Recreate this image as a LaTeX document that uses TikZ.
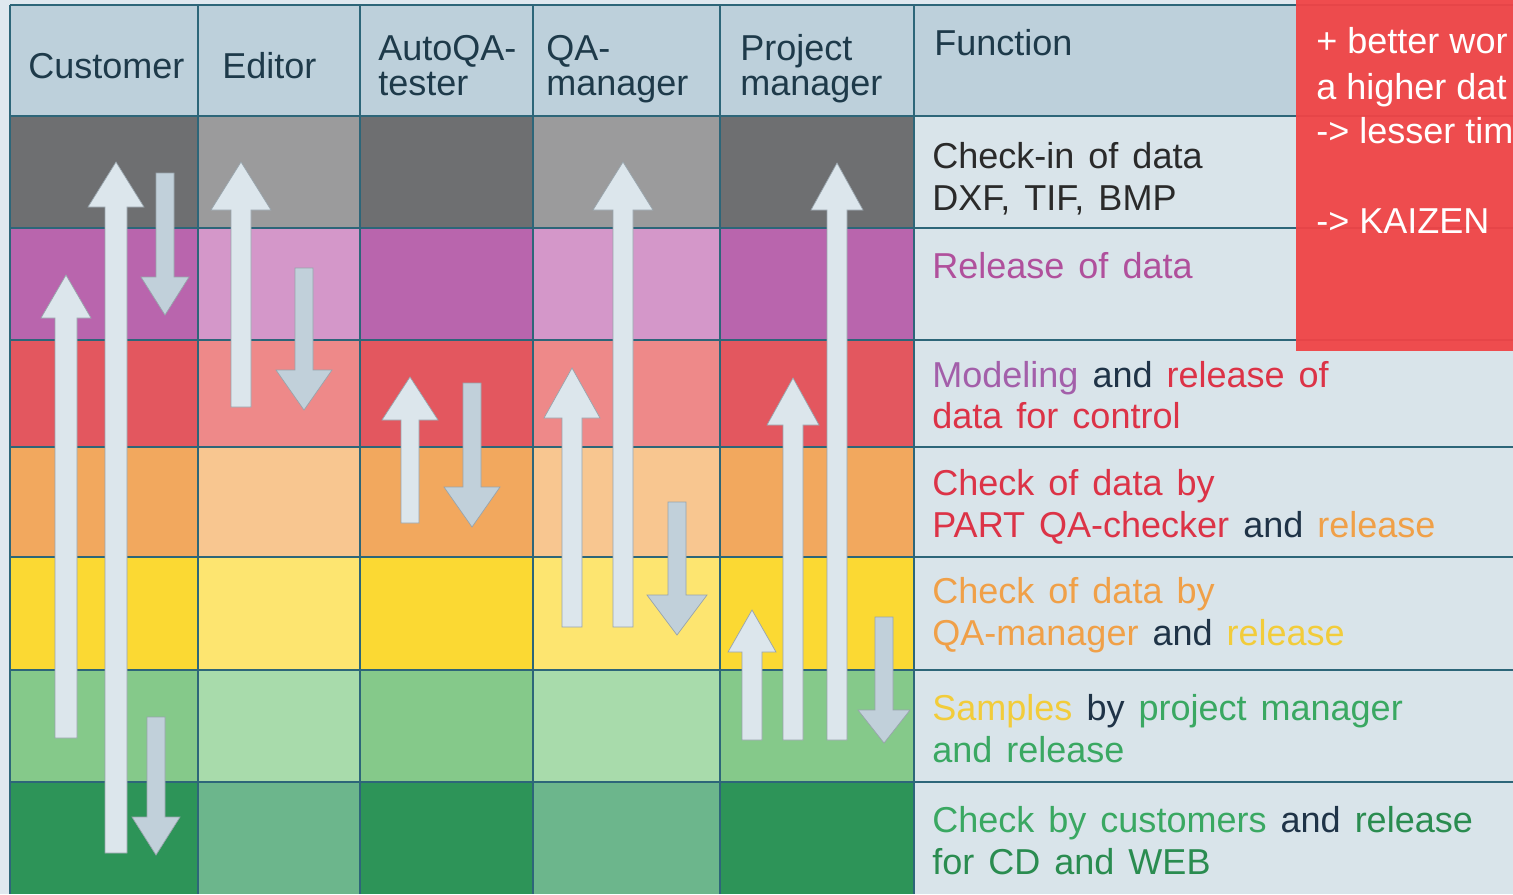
\documentclass[tikz,border=0pt]{standalone}
\usepackage{fontspec}
\setmainfont{Liberation Sans}
\newfontfamily\fnfont[WordSpace=1.4]{Liberation Sans}
\definecolor{bgc}{HTML}{DFE8EF}
\definecolor{hdr}{HTML}{BDD0DB}
\definecolor{fnc}{HTML}{D9E4EA}
\definecolor{gridc}{HTML}{2D6679}
\definecolor{r1d}{HTML}{6E6F71}\definecolor{r1l}{HTML}{9B9B9C}
\definecolor{r2d}{HTML}{B965AD}\definecolor{r2l}{HTML}{D497C9}
\definecolor{r3d}{HTML}{E3575F}\definecolor{r3l}{HTML}{EE8989}
\definecolor{r4d}{HTML}{F2A85E}\definecolor{r4l}{HTML}{F8C690}
\definecolor{r5d}{HTML}{FBD933}\definecolor{r5l}{HTML}{FDE570}
\definecolor{r6d}{HTML}{85C98A}\definecolor{r6l}{HTML}{A8DBAB}
\definecolor{r7d}{HTML}{2D9458}\definecolor{r7l}{HTML}{6CB68C}
\definecolor{upc}{HTML}{DCE6EC}
\definecolor{dnc}{HTML}{C1D0DA}
\definecolor{arre}{HTML}{98A4AC}
\definecolor{hdtxt}{HTML}{1E3A4A}
\definecolor{navy}{HTML}{1F3347}
\definecolor{dtxt}{HTML}{2A2A2A}
\definecolor{magt}{HTML}{B0509C}
\definecolor{purt}{HTML}{A35FAA}
\definecolor{redt}{HTML}{DC3347}
\definecolor{orat}{HTML}{F0A048}
\definecolor{yelt}{HTML}{F2CC3A}
\definecolor{grnt}{HTML}{3AA862}
\definecolor{dgrt}{HTML}{2A8C50}
\definecolor{redb}{HTML}{F04446}
\newcommand\UpBlk[6]{%
  \filldraw[uparr] ({#1-#5},#4) -- ({#1-#5},#3) -- ({#1-#6},#3) -- (#1,#2)
    -- ({#1+#6},#3) -- ({#1+#5},#3) -- ({#1+#5},#4) -- cycle;}
\newcommand\DnBlk[6]{%
  \filldraw[dnarr] ({#1-#5},#2) -- ({#1-#5},#3) -- ({#1-#6},#3) -- (#1,#4)
    -- ({#1+#6},#3) -- ({#1+#5},#3) -- ({#1+#5},#2) -- cycle;}
\begin{document}
\begin{tikzpicture}[x=0.02cm,y=-0.02cm,
  gridline/.style={draw=gridc,line width=0.9pt},
  uparr/.style={fill=upc,draw=arre,line width=0.4pt},
  dnarr/.style={fill=dnc,draw=arre,line width=0.4pt},
  hd/.style={anchor=base west,inner sep=0pt,text=hdtxt,font=\fontsize{20.5}{24}\selectfont},
  fn/.style={anchor=base west,inner sep=0pt,font=\fnfont\fontsize{20.5}{24}\selectfont},
  rb/.style={anchor=base west,inner sep=0pt,text=white,font=\fontsize{20.5}{24}\selectfont}]
\useasboundingbox (0,0) rectangle (1513,894);
\fill[bgc] (0,0) rectangle (1513,894);
\fill[hdr] (10,5) rectangle (1513,116);
\fill[fnc] (914,116) rectangle (1513,894);
\foreach \rw/\ya/\yb in {1/116/228,2/228/340,3/340/447,4/447/557,5/557/670,6/670/782,7/782/894}{
  \fill[fill=r\rw d] (10,\ya) rectangle (198,\yb);
  \fill[fill=r\rw l] (198,\ya) rectangle (360,\yb);
  \fill[fill=r\rw d] (360,\ya) rectangle (533,\yb);
  \fill[fill=r\rw l] (533,\ya) rectangle (720,\yb);
  \fill[fill=r\rw d] (720,\ya) rectangle (914,\yb);
}
\foreach \yy in {5,116,228,340,447,557,670,782}{\draw[gridline] (10,\yy) -- (1513,\yy);}
\foreach \xx in {10,198,360,533,720,914}{\draw[gridline] (\xx,5) -- (\xx,894);}
% arrows
\UpBlk{116}{162}{207}{853}{11}{28}
\DnBlk{165}{173}{277}{315}{9}{24}
\UpBlk{66}{275}{318}{738}{11}{25}
\DnBlk{156}{717}{817}{855}{9}{24}
\UpBlk{241}{162}{210}{407}{10}{30}
\DnBlk{304}{268}{370}{410}{9}{28}
\UpBlk{410}{377}{420}{523}{9}{28}
\DnBlk{472}{383}{487}{527}{9}{28}
\UpBlk{572}{368}{418}{627}{10}{28}
\UpBlk{623}{162}{210}{627}{10}{30}
\DnBlk{677}{502}{595}{635}{9}{30}
\UpBlk{752}{610}{652}{740}{10}{24}
\UpBlk{793}{378}{425}{740}{10}{26}
\UpBlk{837}{163}{210}{740}{10}{26}
\DnBlk{884}{617}{710}{743}{9}{26}
% header
\node[hd] (hCust) at (28,78) {Customer};
\node[hd] (hEdit) at (222,78) {Editor};
\node[hd] (hAutoA) at (378,60) {AutoQA-};
\node[hd] (hAutoB) at (378,95) {tester};
\node[hd] (hQAA) at (546,60) {QA-};
\node[hd] (hQAB) at (546,95) {manager};
\node[hd] (hPMA) at (740,60) {Project};
\node[hd] (hPMB) at (740,95) {manager};
\node[hd] (hFunc) at (934,55) {Function};
% function texts
\node[fn,text=dtxt] (f1a) at (932,168) {Check-in of data};
\node[fn,text=dtxt] (f1b) at (932,210) {DXF, TIF, BMP};
\node[fn,text=magt] (f2a) at (932,278) {Release of data};
\node[fn] (f3a) at (932,387) {\textcolor{purt}{Modeling} \textcolor{navy}{and} \textcolor{redt}{release of}};
\node[fn,text=redt] (f3b) at (932,428) {data for control};
\node[fn,text=redt] (f4a) at (932,495) {Check of data by};
\node[fn] (f4b) at (932,537) {\textcolor{redt}{PART QA-checker} \textcolor{navy}{and} \textcolor{orat}{release}};
\node[fn,text=orat] (f5a) at (932,603) {Check of data by};
\node[fn] (f5b) at (932,645) {\textcolor{orat}{QA-manager} \textcolor{navy}{and} \textcolor{yelt}{release}};
\node[fn] (f6a) at (932,720) {\textcolor{yelt}{Samples} \textcolor{navy}{by} \textcolor{grnt}{project manager}};
\node[fn,text=grnt] (f6b) at (932,762) {and release};
\node[fn] (f7a) at (932,832) {\textcolor{grnt}{Check by customers} \textcolor{navy}{and} \textcolor{dgrt}{release}};
\node[fn,text=dgrt] (f7b) at (932,874) {for CD and WEB};
% red box
\fill[redb,opacity=0.95] (1296,0) rectangle (1513,351);
\begin{scope}
\clip (1296,0) rectangle (1513,351);
\node[rb] (k1) at (1316,53) {+ better wor};
\node[rb] (k2) at (1316,99) {a higher dat};
\node[rb] (k3) at (1316,143) {-> lesser tim};
\node[rb] (k4) at (1316,233) {-> KAIZEN};
\end{scope}
\end{tikzpicture}
\end{document}
